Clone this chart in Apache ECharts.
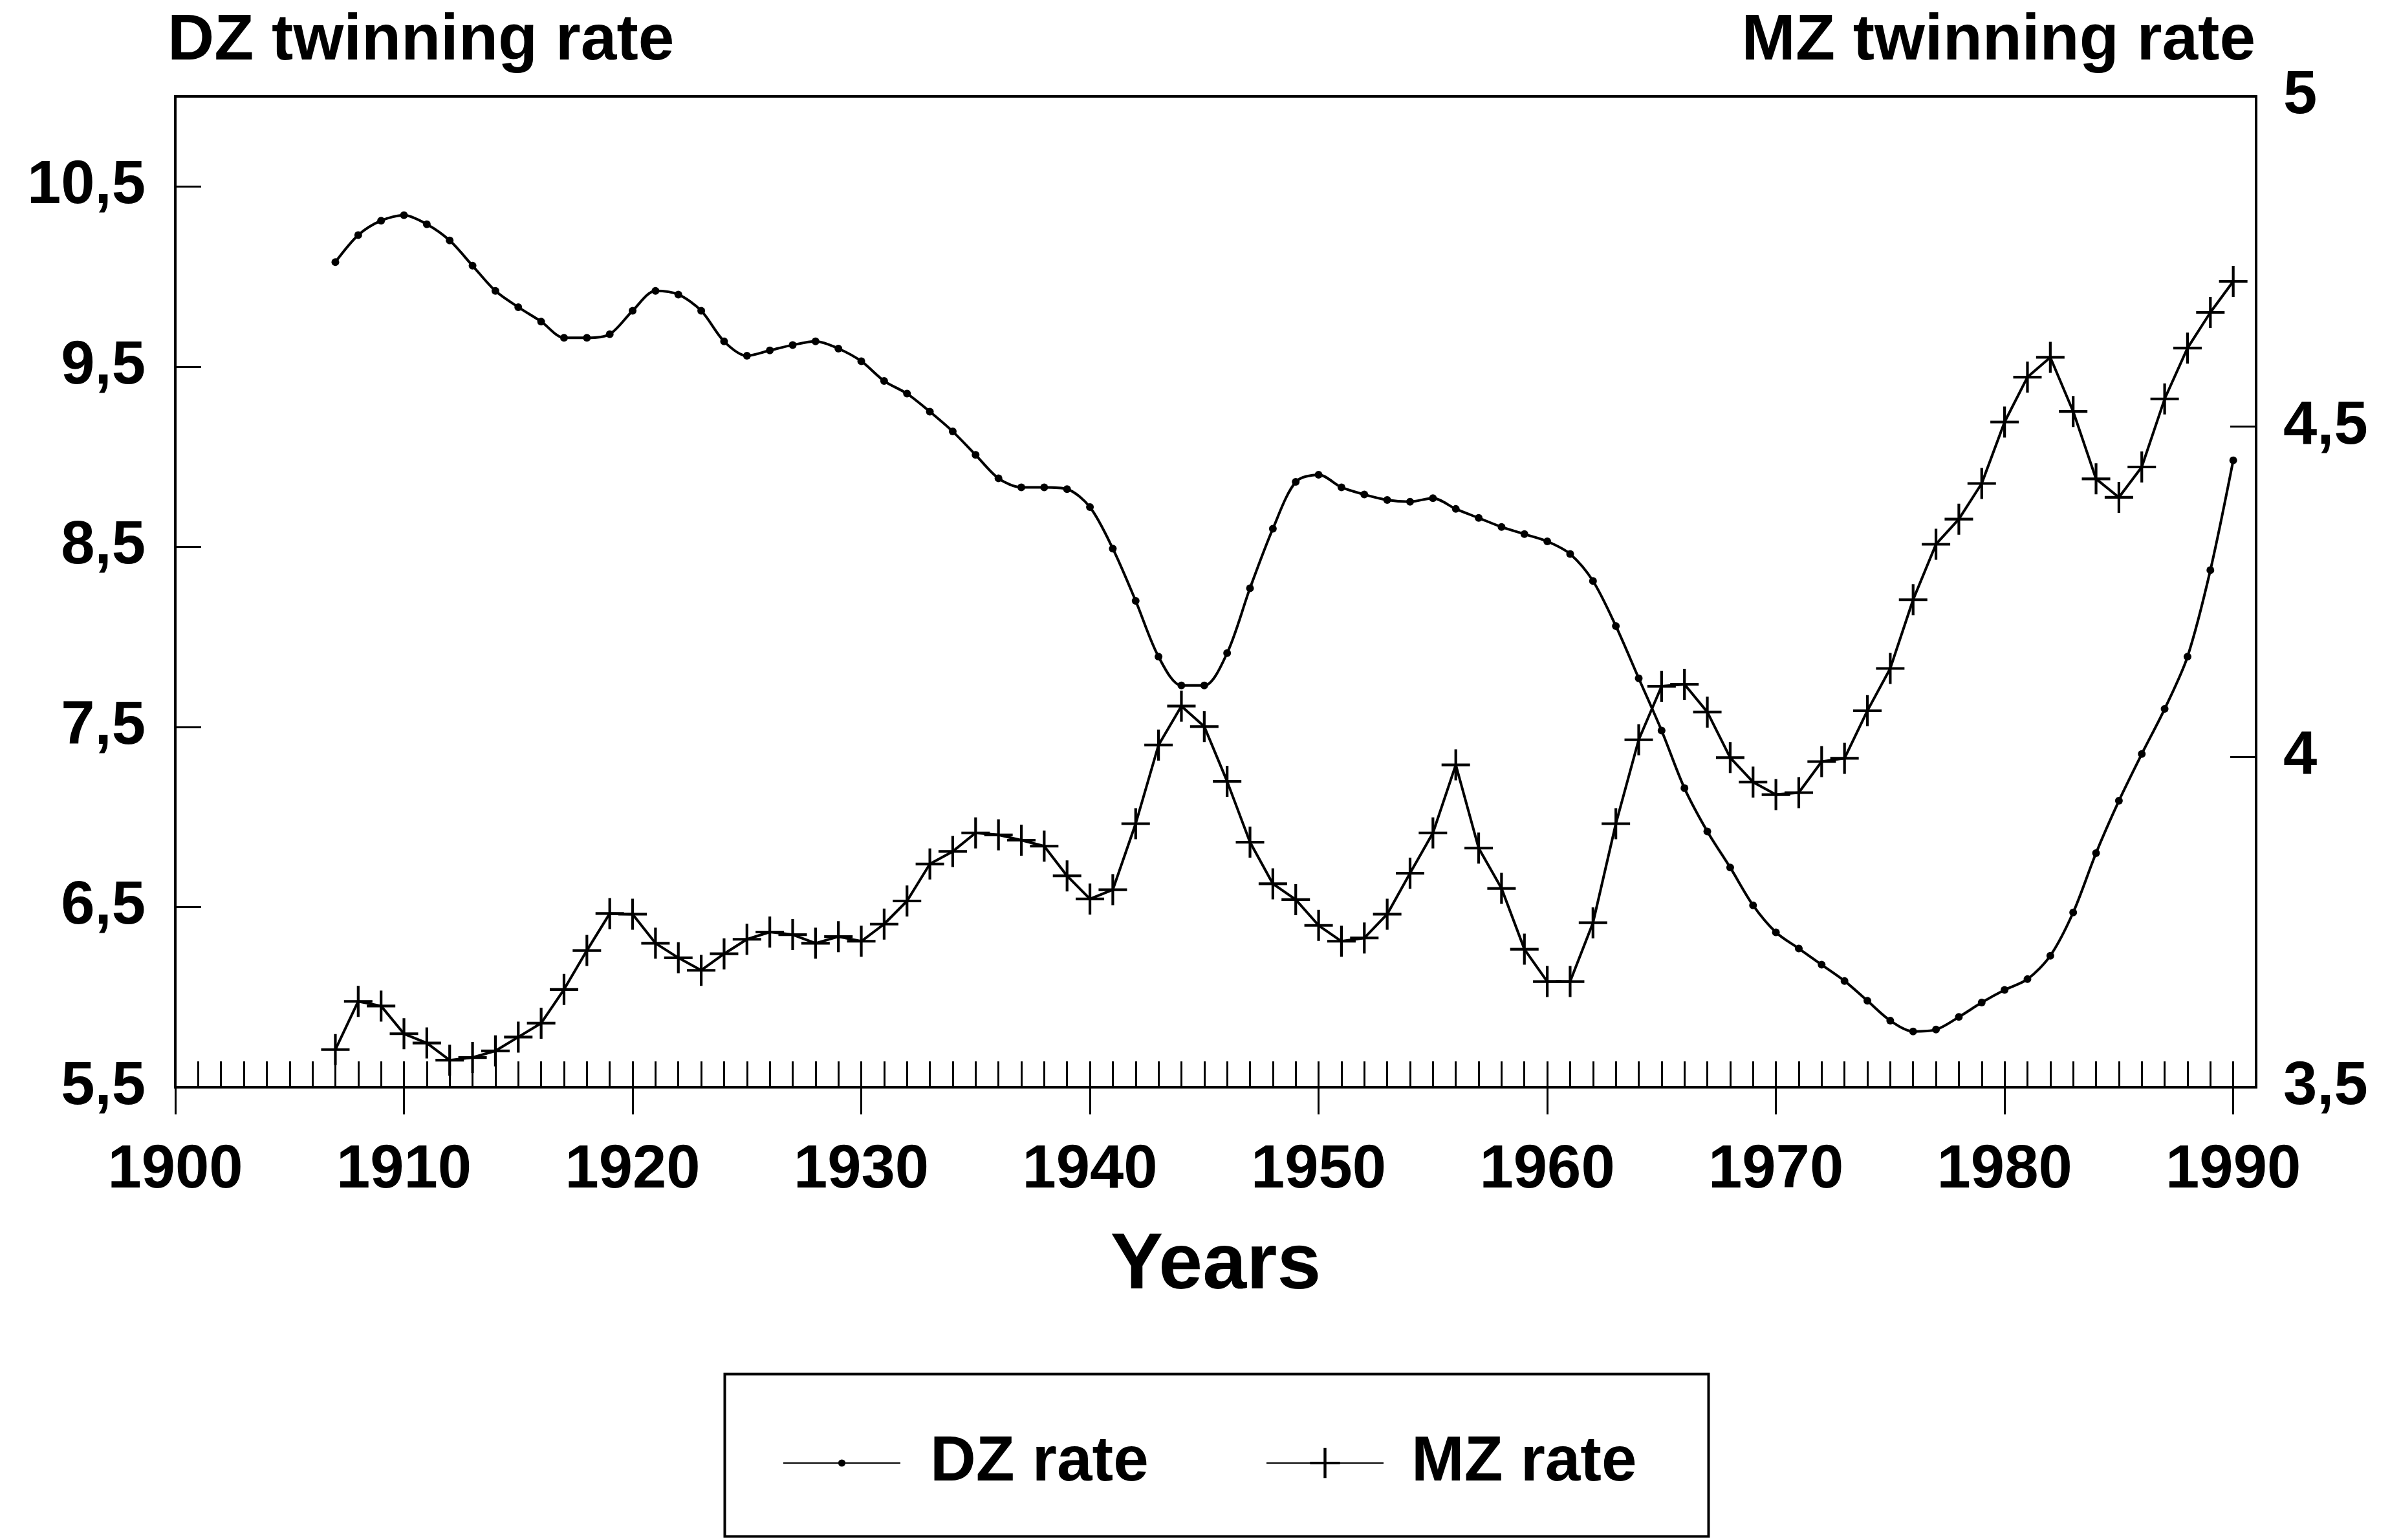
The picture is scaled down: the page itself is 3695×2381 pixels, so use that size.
<!DOCTYPE html>
<html>
<head>
<meta charset="utf-8">
<script src="https://cdn.jsdelivr.net/npm/echarts@6/dist/echarts.min.js"></script>
<style>
html, body { margin: 0; padding: 0; background: #fff; }
#container { width: 3695px; height: 2381px; }
</style>
</head>
<body>
<div id="container"></div>
<script>
var years = [1907, 1908, 1909, 1910, 1911, 1912, 1913, 1914, 1915, 1916, 1917, 1918, 1919, 1920,
    1921, 1922, 1923, 1924, 1925, 1926, 1927, 1928, 1929, 1930, 1931, 1932, 1933, 1934, 1935,
    1936, 1937, 1938, 1939, 1940, 1941, 1942, 1943, 1944, 1945, 1946, 1947, 1948, 1949, 1950,
    1951, 1952, 1953, 1954, 1955, 1956, 1957, 1958, 1959, 1960, 1961, 1962, 1963, 1964, 1965,
    1966, 1967, 1968, 1969, 1970, 1971, 1972, 1973, 1974, 1975, 1976, 1977, 1978, 1979, 1980,
    1981, 1982, 1983, 1984, 1985, 1986, 1987, 1988, 1989, 1990];

// DZ rate (left axis)
var dzRate = [10.08, 10.23, 10.31, 10.34, 10.29, 10.20, 10.06, 9.92, 9.83, 9.75, 9.66, 9.66, 9.68, 9.81,
    9.92, 9.90, 9.81, 9.64, 9.56, 9.59, 9.62, 9.64, 9.60, 9.53, 9.42, 9.35, 9.25, 9.14, 9.01,
    8.88, 8.83, 8.83, 8.82, 8.72, 8.49, 8.20, 7.89, 7.73, 7.73, 7.91, 8.27, 8.60, 8.86, 8.90,
    8.83, 8.79, 8.76, 8.75, 8.77, 8.71, 8.66, 8.61, 8.57, 8.53, 8.46, 8.31, 8.06, 7.77, 7.48,
    7.16, 6.92, 6.72, 6.51, 6.36, 6.27, 6.18, 6.09, 5.98, 5.87, 5.81, 5.82, 5.89, 5.97, 6.04,
    6.10, 6.23, 6.47, 6.80, 7.09, 7.35, 7.60, 7.89, 8.37, 8.98];

// MZ rate (right axis)
var mzRate = [3.557, 3.630, 3.623, 3.581, 3.567, 3.541, 3.545, 3.555, 3.576, 3.597, 3.648, 3.707, 3.763, 3.762,
    3.718, 3.696, 3.677, 3.702, 3.724, 3.735, 3.731, 3.718, 3.728, 3.721, 3.747, 3.782, 3.838, 3.857, 3.885,
    3.882, 3.874, 3.865, 3.820, 3.785, 3.799, 3.899, 4.018, 4.077, 4.046, 3.963, 3.871, 3.808, 3.784, 3.745,
    3.721, 3.726, 3.762, 3.824, 3.885, 3.988, 3.862, 3.801, 3.709, 3.660, 3.660, 3.749, 3.899, 4.026, 4.107,
    4.110, 4.068, 3.999, 3.962, 3.943, 3.946, 3.993, 3.998, 4.070, 4.134, 4.238, 4.322, 4.360, 4.414, 4.507,
    4.575, 4.605, 4.523, 4.421, 4.393, 4.439, 4.542, 4.619, 4.673, 4.720];

var yearTicks = [1900, 1910, 1920, 1930, 1940, 1950, 1960, 1970, 1980, 1990];
var dzTicks = [5.5, 6.5, 7.5, 8.5, 9.5, 10.5];
var mzTicks = [3.5, 4, 4.5, 5];

var font = 'Liberation Sans';
var plusPath = 'path://M190,0L230,0L230,210L420,210L420,250L230,250L230,460L190,460L190,250L0,250L0,210L190,210Z';

function comma(v) {
    return String(v).replace('.', ',');
}

var dom = document.getElementById('container');
var myChart = echarts.init(dom);

var option = {
    backgroundColor: '#fff',
    animation: false,
    title: [{
        text: 'DZ twinning rate',
        left: 259, top: 14, padding: 0,
        textStyle: { fontFamily: font, fontWeight: 'bold', fontSize: 100, color: '#000' }
    }, {
        text: 'MZ twinning rate',
        right: 208, top: 14, padding: 0,
        textStyle: { fontFamily: font, fontWeight: 'bold', fontSize: 100, color: '#000' }
    }],
    grid: {
        left: 271, top: 149, width: 3217, height: 1532,
        show: true, borderColor: '#000', borderWidth: 4
    },
    legend: [{
        data: ['DZ rate'],
        left: 1210, top: 2213, padding: 0,
        itemWidth: 181, itemHeight: 14,
        textStyle: { fontFamily: font, fontWeight: 'bold', fontSize: 98, color: '#000', padding: [28, 0, 0, 41] }
    }, {
        data: ['MZ rate'],
        left: 1957, top: 2213, padding: 0,
        itemWidth: 181, itemHeight: 58,
        textStyle: { fontFamily: font, fontWeight: 'bold', fontSize: 98, color: '#000', padding: [28, 0, 0, 38] }
    }],
    graphic: [{
        type: 'rect',
        left: 1118, top: 2122,
        shape: { width: 1521, height: 251 },
        style: { fill: 'none', stroke: '#000', lineWidth: 4 }
    }],
    xAxis: [{
        type: 'value', min: 1900, max: 1991, position: 'bottom',
        name: 'Years', nameLocation: 'middle', nameGap: 216,
        nameTextStyle: { fontFamily: font, fontWeight: 'bold', fontSize: 122, color: '#000' },
        axisLine: { lineStyle: { color: '#000', width: 4 } },
        axisTick: { inside: false, length: 42, customValues: yearTicks, lineStyle: { color: '#000', width: 3 } },
        axisLabel: {
            customValues: yearTicks, margin: 82,
            formatter: function (v) { return String(v); },
            fontFamily: font, fontWeight: 'bold', fontSize: 94, color: '#000'
        },
        splitLine: { show: false }
    }, {
        type: 'value', min: 1900, max: 1991, interval: 1, position: 'bottom',
        axisLine: { show: false },
        axisTick: { inside: true, length: 40, lineStyle: { color: '#000', width: 3 } },
        axisLabel: { show: false },
        splitLine: { show: false }
    }],
    yAxis: [{
        type: 'value', min: 5.5, max: 11, interval: 1, position: 'left',
        axisLine: { show: true, lineStyle: { color: '#000', width: 4 } },
        axisTick: { show: true, inside: true, length: 40, customValues: dzTicks, lineStyle: { color: '#000', width: 3 } },
        axisLabel: { customValues: dzTicks, margin: 46, formatter: comma, fontFamily: font, fontWeight: 'bold', fontSize: 94, color: '#000' },
        splitLine: { show: false }
    }, {
        type: 'value', min: 3.5, max: 5, interval: 0.5, position: 'right',
        axisLine: { show: true, lineStyle: { color: '#000', width: 4 } },
        axisTick: { show: true, inside: true, length: 40, customValues: mzTicks, lineStyle: { color: '#000', width: 3 } },
        axisLabel: { customValues: mzTicks, margin: 42, formatter: comma, fontFamily: font, fontWeight: 'bold', fontSize: 94, color: '#000' },
        splitLine: { show: false }
    }],
    series: [{
        name: 'DZ rate',
        type: 'line',
        xAxisIndex: 0, yAxisIndex: 0,
        smooth: 0.3,
        symbol: 'circle', symbolSize: 12,
        itemStyle: { color: '#000' },
        lineStyle: { color: '#000', width: 4 },
        data: years.map(function (y, i) { return [y, dzRate[i]]; })
    }, {
        name: 'MZ rate',
        type: 'line',
        xAxisIndex: 0, yAxisIndex: 1,
        symbol: plusPath, symbolSize: [44, 48],
        itemStyle: { color: '#000' },
        lineStyle: { color: '#000', width: 4 },
        data: years.map(function (y, i) { return [y, mzRate[i]]; })
    }]
};

if (option && typeof option === 'object') {
    myChart.setOption(option, true);
}
</script>
</body>
</html>
